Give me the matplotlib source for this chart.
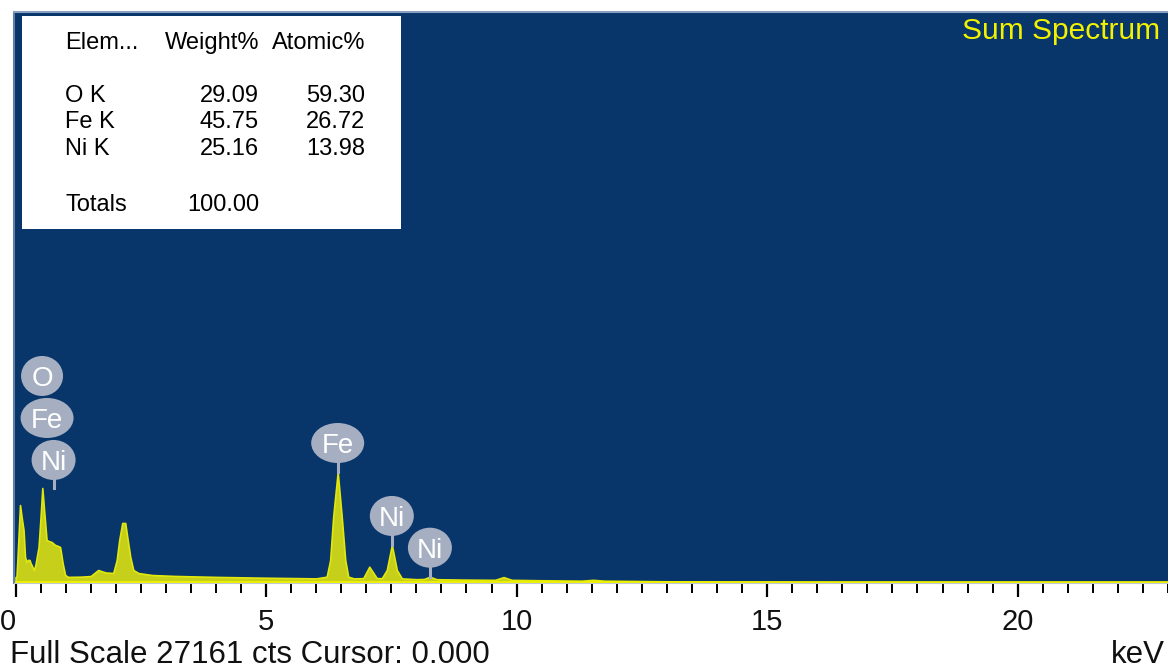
import numpy as np
import matplotlib.pyplot as plt
from matplotlib.patches import Ellipse, Rectangle
from matplotlib.lines import Line2D
from matplotlib.transforms import IdentityTransform

plt.rcParams['font.family'] = ['Liberation Sans', 'DejaVu Sans']

# spectrum (keV, counts)
energy_kev = [0.00, 0.02, 0.04, 0.09, 0.13, 0.16, 0.19, 0.22, 0.25, 0.28, 0.30,
              0.32, 0.35, 0.37, 0.40, 0.46, 0.50, 0.535, 0.575, 0.62, 0.67, 0.72,
              0.79, 0.85, 0.89, 0.94, 0.99, 1.05, 1.30, 1.50, 1.65, 1.72, 1.80,
              1.95, 2.02, 2.07, 2.13, 2.19, 2.23, 2.29, 2.35, 2.45, 2.72, 3.18,
              4.00, 5.00, 6.00, 6.21, 6.28, 6.34, 6.43, 6.51, 6.58, 6.64, 6.75,
              6.94, 7.06, 7.21, 7.31, 7.41, 7.51, 7.61, 7.71, 8.00, 8.15, 8.27,
              8.40, 9.00, 9.57, 9.74, 9.90, 10.5, 11.3, 11.53, 11.75, 13.0, 15.0,
              17.0, 20.0, 23.0]
counts = [280, 300, 1200, 3710, 3000, 2520, 1240, 1000, 1100, 1095, 950,
          855, 700, 620, 900, 1710, 3140, 4520, 3330, 2045, 1990, 1950,
          1810, 1760, 1710, 950, 380, 290, 300, 330, 620, 560, 500,
          475, 1095, 2045, 2855, 2855, 2190, 1240, 620, 475, 380, 335,
          290, 250, 220, 300, 1095, 3150, 5280, 3150, 1095, 300, 220,
          230, 775, 230, 230, 620, 1810, 620, 220, 180, 190, 300,
          180, 160, 150, 280, 150, 130, 110, 150, 110, 80, 50,
          20, 0, 0]
full_scale = 27161

peak_names = ['O', 'Fe', 'Ni', 'Fe', 'Ni', 'Ni']
peak_kev = [0.53, 0.63, 0.76, 6.43, 7.51, 8.27]

table_rows = ['O K', 'Fe K', 'Ni K']
weight_pct = ['29.09', '45.75', '25.16']
atomic_pct = ['59.30', '26.72', '13.98']
total_weight = '100.00'

W, H = 1168, 668
fig = plt.figure(figsize=(W / 100, H / 100), dpi=100)
fig.patch.set_facecolor('white')

def fx(px):
    return px / W

def fy(py):
    return 1 - py / H

ax = fig.add_axes([fx(14), fy(583), (W - 14) / W, (583 - 12) / H])
ax.set_facecolor('#08356a')
ax.fill_between(energy_kev, counts, 0, facecolor='#c6cf1a', edgecolor='#e2e80c', lw=1.2)
ax.axhline(60, color='#eef200', lw=2)
ax.set_xlim(-0.03, 23.0)
ax.set_ylim(0, full_scale)

ax.set_yticks([])
ax.set_xticks([0, 5, 10, 15, 20])
ax.set_xticks(np.arange(0, 23.01, 0.5), minor=True)
ax.tick_params(axis='x', which='major', direction='out', length=10, width=1.6,
               color='black', labelsize=21, pad=8, labelcolor='#111111')
ax.tick_params(axis='x', which='minor', direction='out', length=7, width=1.4, color='black')
ax.get_xticklabels()[0].set_ha('right')

ax.spines['right'].set_visible(False)
ax.spines['left'].set_color('#5f7fa8')
ax.spines['left'].set_linewidth(1.5)
ax.spines['top'].set_color('#8aa0c0')
ax.spines['top'].set_linewidth(1.5)
ax.spines['bottom'].set_color('#c0c8d8')

# element table
fig.add_artist(Rectangle((fx(22), fy(229)), 379 / W, 213 / H, transform=fig.transFigure,
                         facecolor='white', edgecolor='none'))
tfs = 17
fig.text(fx(65), fy(43), 'Elem...', fontsize=tfs, va='center', ha='left')
fig.text(fx(259), fy(43), 'Weight%', fontsize=tfs, va='center', ha='right')
fig.text(fx(365), fy(43), 'Atomic%', fontsize=tfs, va='center', ha='right')
for i, name in enumerate(table_rows):
    y = 96 + i * 26.5
    fig.text(fx(65), fy(y), name, fontsize=tfs, va='center', ha='left')
    fig.text(fx(259), fy(y), weight_pct[i], fontsize=tfs, va='center', ha='right')
    fig.text(fx(365), fy(y), atomic_pct[i], fontsize=tfs, va='center', ha='right')
fig.text(fx(65), fy(205), 'Totals', fontsize=tfs, va='center', ha='left')
fig.text(fx(259), fy(205), total_weight, fontsize=tfs, va='center', ha='right')

fig.text(fx(1160), fy(31), 'Sum Spectrum', fontsize=21.5, color='#f2f200', va='center', ha='right')
fig.text(fx(10), fy(655), 'Full Scale %d cts Cursor: 0.000' % full_scale, fontsize=22.5,
         va='center', ha='left', color='#111111')
fig.text(fx(1165), fy(655), 'keV', fontsize=22.5, va='center', ha='right', color='#111111')

# peak label bubbles (pixel space)
bub = '#a6afc1'
def bubble(cx, cy, name):
    w = 53 if name == 'Fe' else (44 if name == 'Ni' else 42)
    fig.add_artist(Ellipse((cx, cy), w, 40, transform=IdentityTransform(),
                           facecolor=bub, edgecolor='none', zorder=5))
    fig.text(cx / W, cy / H, name, fontsize=20, color='white', ha='center',
             va='center_baseline', zorder=6)

def stem(px, y0, y1):
    fig.add_artist(Line2D([px, px], [y0, y1], transform=IdentityTransform(),
                          color=bub, lw=2.2, zorder=4))

e = np.array(energy_kev)
c = np.array(counts)
# left cluster stacked above the O peak
top_left = c[(e > 0.4) & (e < 0.9)].max()
px, py = ax.transData.transform((peak_kev[2], top_left))
stem(px, py, py + 10)
for k in range(3):
    cx = ax.transData.transform((peak_kev[k], 0))[0]
    cy = py + 28 + (2 - k) * 42
    bubble(cx, cy, peak_names[k])

for k in range(3, 6):
    top = np.interp(peak_kev[k], e, c)
    px, py = ax.transData.transform((peak_kev[k], top))
    stem(px, py, py + 10)
    bubble(px, py + 29, peak_names[k])

fig.savefig('out.png', dpi=100)
